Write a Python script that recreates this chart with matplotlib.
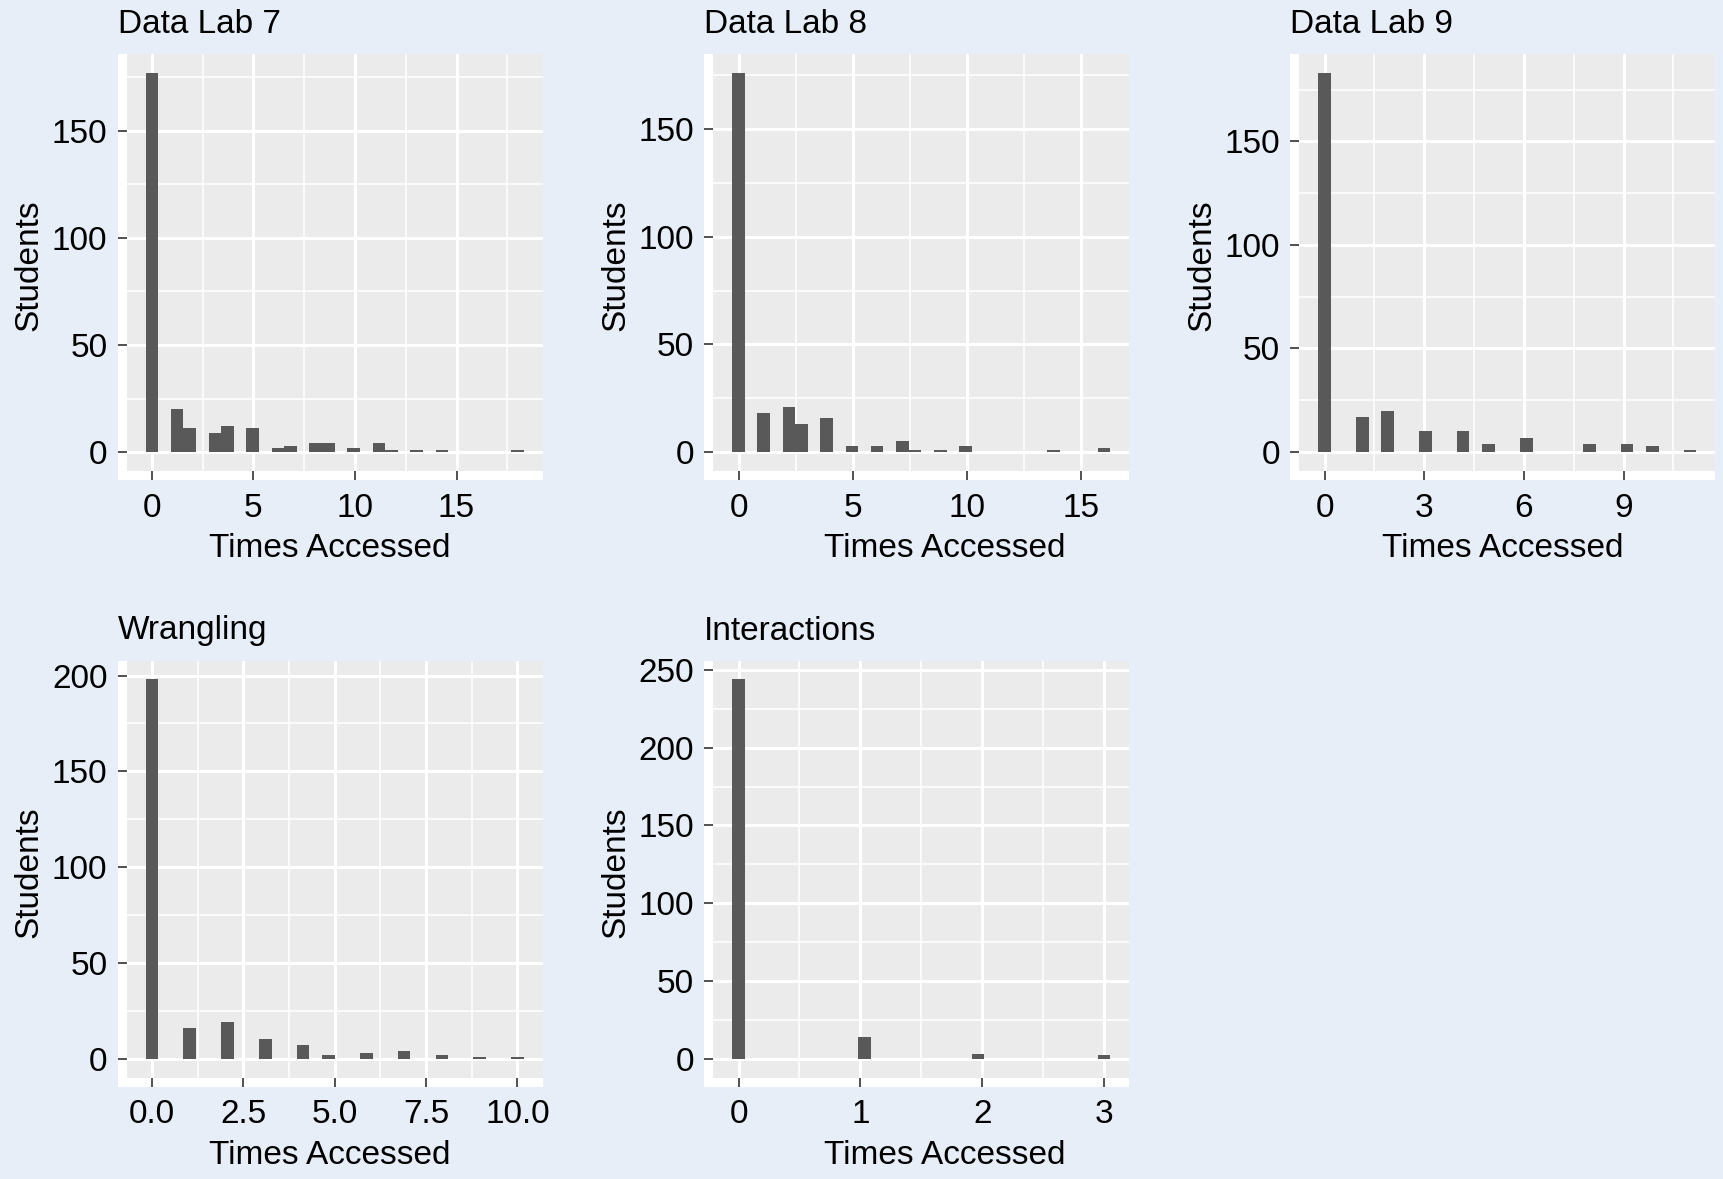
import numpy as np
import matplotlib
matplotlib.use("Agg")
import matplotlib.pyplot as plt
from matplotlib.patches import Rectangle

plt.rcParams['font.family'] = ['Liberation Sans', 'DejaVu Sans']

# counts of students per number of times each resource was accessed
titles = ['Data Lab 7', 'Data Lab 8', 'Data Lab 9', 'Wrangling', 'Interactions']

lab7_vals = [0, 1, 2, 3, 4, 5, 6, 7, 8, 9, 10, 11, 12, 13, 14, 18]
lab7_counts = [177, 20, 11, 9, 12, 11, 2, 3, 4, 4, 2, 4, 1, 1, 1, 1]

lab8_vals = [0, 1, 2, 3, 4, 5, 6, 7, 8, 9, 10, 14, 16]
lab8_counts = [176, 18, 21, 13, 16, 3, 3, 5, 1, 1, 3, 1, 2]

lab9_vals = [0, 1, 2, 3, 4, 5, 6, 8, 9, 10, 11]
lab9_counts = [183, 17, 20, 10, 10, 4, 7, 4, 4, 3, 1]

wrang_vals = [0, 1, 2, 3, 4, 5, 6, 7, 8, 9, 10]
wrang_counts = [198, 16, 19, 10, 7, 2, 3, 4, 2, 1, 1]

inter_vals = [0, 1, 2, 3]
inter_counts = [244, 14, 3, 2]

x_ticks = [[0, 5, 10, 15], [0, 5, 10, 15], [0, 3, 6, 9],
           [0, 2.5, 5, 7.5, 10], [0, 1, 2, 3]]
x_ticklabels = [['0', '5', '10', '15'], ['0', '5', '10', '15'], ['0', '3', '6', '9'],
                ['0.0', '2.5', '5.0', '7.5', '10.0'], ['0', '1', '2', '3']]
y_ticks = [[0, 50, 100, 150], [0, 50, 100, 150], [0, 50, 100, 150],
           [0, 50, 100, 150, 200], [0, 50, 100, 150, 200, 250]]

data = [(lab7_vals, lab7_counts), (lab8_vals, lab8_counts), (lab9_vals, lab9_counts),
        (wrang_vals, wrang_counts), (inter_vals, inter_counts)]

W, H = 1724, 1179
fig = plt.figure(figsize=(W / 100, H / 100), dpi=100)
fig.patch.set_facecolor('#E7EEF8')

# panel boxes in pixels: left, top, width, height
lefts = [126.7, 713.3, 1299.3, 126.7, 713.3]
tops = [54, 54, 54, 660.5, 660.5]
xlab_shift = [-5, 23, -5, -5, 23]
pw, ph = 416, 417
tick_px = 9
fs = 24


def fx(px):
    return px / W


def fy(py):
    return 1 - py / H


for i in range(5):
    vals, counts = data[i]
    l, t = lefts[i], tops[i]
    ax = fig.add_axes([fx(l), fy(t + ph), pw / W, ph / H])
    ax.set_zorder(2)
    # white strip behind ticks
    fig.patches.append(Rectangle((fx(l - tick_px), fy(t + ph + tick_px)),
                                 (pw + tick_px) / W, (ph + tick_px) / H,
                                 transform=fig.transFigure, facecolor='white',
                                 edgecolor='none', zorder=-5))
    ax.set_facecolor('#EBEBEB')
    for s in ax.spines.values():
        s.set_visible(False)

    # ggplot style 30 bins, right closed
    lo, hi = min(vals), max(vals)
    bw = (hi - lo) / 29
    edges = lo - bw / 2 + np.arange(31) * bw + 1e-7 * bw
    n, _, _ = ax.hist(vals, bins=edges, weights=counts, color='#595959',
                      edgecolor='none', zorder=3)

    span = edges[-1] - edges[0]
    xt = x_ticks[i]
    step = xt[1] - xt[0]
    yt = y_ticks[i]
    ax.set_xticks(xt)
    ax.set_xticklabels(x_ticklabels[i])
    ax.set_yticks(yt)
    ax.set_xticks([v + step / 2 for v in [xt[0] - step] + xt], minor=True)
    ax.set_yticks([v + 25 for v in [-50] + yt], minor=True)
    ax.set_xlim(edges[0] - 0.05 * span, edges[-1] + 0.05 * span)
    ax.set_ylim(-0.05 * n.max(), 1.05 * n.max())

    ax.grid(which='major', color='white', linewidth=2.2, zorder=1)
    ax.grid(which='minor', color='white', linewidth=1.1, zorder=1)
    ax.set_axisbelow(True)
    ax.tick_params(which='major', length=6.5, width=1.2, color='#333333',
                   labelsize=fs, labelcolor='black')
    ax.tick_params(axis='x', pad=9.0)
    ax.tick_params(axis='y', pad=7.4)
    ax.tick_params(which='minor', length=0)

    fig.text(fx(l - 9.1), fy(t - 21), titles[i], fontsize=fs,
             ha='left', va='baseline')
    fig.text(fx(l + pw / 2 + xlab_shift[i]), fy(t + ph + 86), 'Times Accessed',
             fontsize=fs, ha='center', va='baseline')
    fig.text(fx(l - 89), fy(t + ph / 2 + 3), 'Students', fontsize=fs,
             rotation=90, rotation_mode='anchor', ha='center', va='baseline')

fig.savefig('out.png', dpi=100, facecolor=fig.get_facecolor())
